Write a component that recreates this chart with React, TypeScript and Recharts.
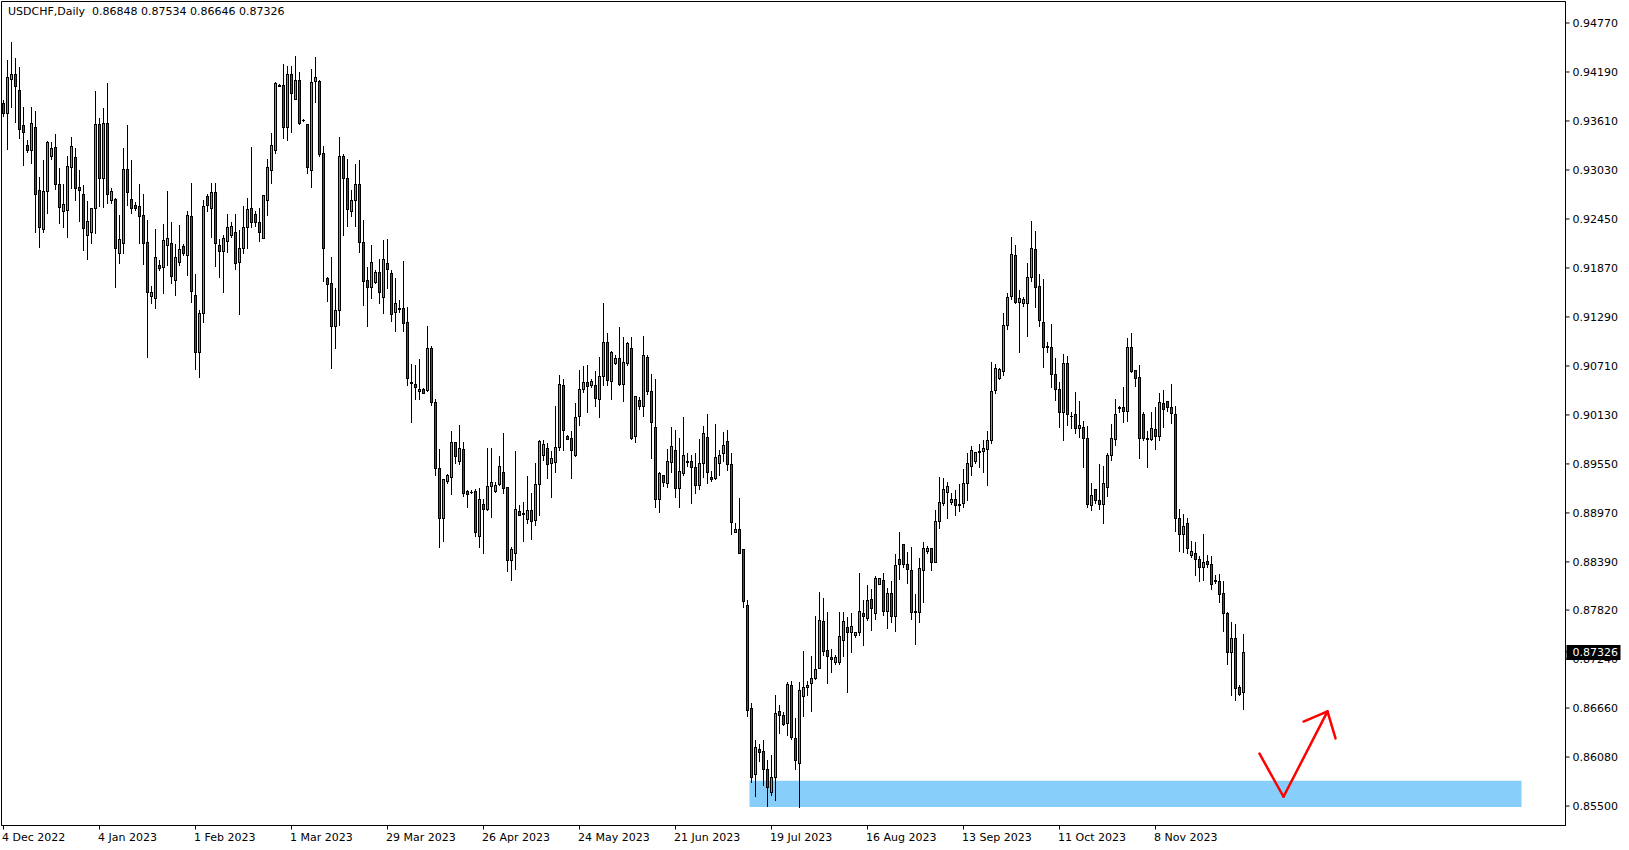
import React from 'react';
import { ComposedChart, Bar, XAxis, YAxis, ReferenceArea, ReferenceLine } from 'recharts';

const chartTitle = 'USDCHF,Daily';

const opens = [
0.9382,0.9371,0.9411,0.9417,0.9398,0.9356,0.9332,0.9327,0.9354,0.9279,0.9233,0.9278,0.9319,0.9330,0.9286,0.9254,0.9256,0.9307,0.9318,0.9283,
0.9275,0.9226,0.9230,0.9258,0.9357,0.9293,0.9359,0.9267,0.9269,0.9205,0.9217,0.9304,0.9269,0.9261,0.9260,0.9250,0.9218,0.9154,0.9152,0.9190,
0.9188,0.9214,0.9217,0.9173,0.9194,0.9213,0.9202,0.9249,0.9155,0.9087,0.9134,0.9272,0.9258,0.9277,0.9214,0.9207,0.9219,0.9226,0.9230,0.9194,
0.9211,0.9236,0.9258,0.9251,0.9242,0.9222,0.9267,0.9303,0.9327,0.9402,0.9404,0.9354,0.9417,0.9387,0.9409,0.9362,0.9357,0.9303,0.9408,0.9408,
0.9323,0.9175,0.9169,0.9118,0.9137,0.9319,0.9293,0.9254,0.9268,0.9286,0.9218,0.9173,0.9165,0.9170,0.9182,0.9153,0.9193,0.9181,0.9135,0.9138,
0.9140,0.9123,0.9052,0.9050,0.9041,0.9044,0.9042,0.9092,0.9028,0.8950,0.8891,0.8935,0.8940,0.8981,0.8958,0.8973,0.8923,0.8922,0.8923,0.8870,
0.8908,0.8902,0.8929,0.8923,0.8931,0.8946,0.8928,0.8841,0.8849,0.8899,0.8897,0.8890,0.8901,0.8889,0.8931,0.8965,0.8974,0.8956,0.8957,0.8975,
0.9049,0.8988,0.8986,0.8966,0.9012,0.9044,0.9052,0.9048,0.9048,0.9032,0.9059,0.9099,0.9053,0.9075,0.9080,0.9050,0.9075,0.9092,0.8988,0.9031,
0.9024,0.9082,0.9041,0.8999,0.8913,0.8942,0.8933,0.8957,0.8971,0.8927,0.8944,0.8957,0.8959,0.8951,0.8930,0.8956,0.8987,0.8939,0.8938,0.8956,
0.8968,0.8982,0.8955,0.8875,0.8878,0.8854,0.8788,0.8666,0.8588,0.8618,0.8615,0.8594,0.8567,0.8584,0.8662,0.8658,0.8648,0.8693,0.8631,0.8601,
0.8680,0.8691,0.8696,0.8701,0.8714,0.8769,0.8735,0.8726,0.8721,0.8721,0.8746,0.8762,0.8756,0.8752,0.8756,0.8779,0.8773,0.8795,0.8779,0.8813,
0.8818,0.8781,0.8802,0.8775,0.8843,0.8860,0.8837,0.8829,0.8781,0.8780,0.8830,0.8852,0.8855,0.8839,0.8888,0.8909,0.8922,0.8910,0.8914,0.8906,
0.8909,0.8932,0.8952,0.8959,0.8970,0.8970,0.8973,0.8983,0.9042,0.9057,0.9065,0.9120,0.9154,0.9202,0.9147,0.9146,0.9146,0.9176,0.9210,0.9166,
0.9123,0.9095,0.9093,0.9061,0.9044,0.9017,0.9074,0.9012,0.9014,0.8998,0.8999,0.8986,0.8906,0.8925,0.8912,0.8908,0.8928,0.8965,0.8984,0.9022,
0.9022,0.9018,0.9094,0.9066,0.9058,0.9014,0.8986,0.8984,0.8996,0.8988,0.9027,0.9029,0.9022,0.9014,0.8891,0.8872,0.8885,0.8847,0.8850,0.8843,
0.8833,0.8840,0.8837,0.8818,0.8816,0.8802,0.8779,0.8732,0.8749,0.8691,0.86848];

const highs = [
0.9386,0.9433,0.9454,0.9436,0.9425,0.9377,0.9339,0.9377,0.9373,0.9295,0.9315,0.9337,0.9336,0.9346,0.9305,0.9286,0.9319,0.9342,0.9329,0.9303,
0.9285,0.9266,0.9258,0.9397,0.9365,0.9376,0.9406,0.9282,0.9270,0.9250,0.9329,0.9356,0.9315,0.9265,0.9286,0.9275,0.9244,0.9166,0.9233,0.9196,
0.9239,0.9278,0.9242,0.9215,0.9238,0.9215,0.9254,0.9287,0.9180,0.9137,0.9267,0.9275,0.9288,0.9287,0.9221,0.9226,0.9251,0.9241,0.9251,0.9232,
0.9260,0.9270,0.9330,0.9254,0.9258,0.9273,0.9316,0.9347,0.9407,0.9405,0.9428,0.9426,0.9426,0.9438,0.9419,0.9363,0.9358,0.9422,0.9437,0.9410,
0.9331,0.9176,0.9200,0.9163,0.9342,0.9322,0.9316,0.9279,0.9310,0.9315,0.9244,0.9188,0.9214,0.9185,0.9198,0.9220,0.9221,0.9185,0.9175,0.9149,
0.9195,0.9141,0.9073,0.9072,0.9079,0.9045,0.9118,0.9095,0.9032,0.8973,0.8937,0.8943,0.8994,0.8981,0.9001,0.8981,0.8924,0.8924,0.8925,0.8926,
0.8914,0.8974,0.8974,0.8934,0.8964,0.8992,0.8928,0.8857,0.8970,0.8906,0.8910,0.8941,0.8920,0.8956,0.8983,0.8983,0.8980,0.8970,0.9024,0.9060,
0.9056,0.8989,0.8994,0.9027,0.9066,0.9071,0.9072,0.9055,0.9065,0.9082,0.9145,0.9110,0.9089,0.9084,0.9117,0.9105,0.9099,0.9105,0.9036,0.9034,
0.9106,0.9084,0.9061,0.9055,0.8946,0.8942,0.8973,0.8999,0.8995,0.8986,0.9011,0.8968,0.8966,0.8968,0.8985,0.9000,0.9014,0.8947,0.9002,0.8972,
0.8993,0.8995,0.8968,0.8885,0.8915,0.8854,0.8794,0.8672,0.8628,0.8623,0.8628,0.8605,0.8610,0.8681,0.8670,0.8661,0.8697,0.8698,0.8654,0.8697,
0.8734,0.8698,0.8728,0.8775,0.8803,0.8796,0.8780,0.8736,0.8729,0.8780,0.8780,0.8774,0.8779,0.8756,0.8826,0.8794,0.8812,0.8807,0.8822,0.8820,
0.8826,0.8808,0.8816,0.8848,0.8874,0.8860,0.8851,0.8857,0.8801,0.8844,0.8862,0.8858,0.8855,0.8900,0.8940,0.8938,0.8934,0.8921,0.8924,0.8931,
0.8949,0.8968,0.8976,0.8969,0.8979,0.8983,0.8994,0.9076,0.9073,0.9068,0.9134,0.9157,0.9224,0.9214,0.9161,0.9153,0.9193,0.9243,0.9231,0.9180,
0.9174,0.9099,0.9121,0.9080,0.9052,0.9085,0.9083,0.9016,0.9040,0.9029,0.9006,0.9000,0.8932,0.8925,0.8955,0.8952,0.8968,0.9002,0.9032,0.9023,
0.9046,0.9104,0.9110,0.9066,0.9072,0.9016,0.8994,0.9016,0.9022,0.9039,0.9043,0.9030,0.9050,0.9024,0.8902,0.8896,0.8891,0.8864,0.8862,0.8846,
0.8872,0.8847,0.8846,0.8824,0.8825,0.8817,0.8780,0.8768,0.8766,0.8693,0.87534];

const lows = [
0.9367,0.9328,0.9378,0.9360,0.9341,0.9309,0.9324,0.9311,0.9229,0.9212,0.9230,0.9252,0.9316,0.9281,0.9240,0.9236,0.9224,0.9282,0.9267,0.9243,
0.9208,0.9198,0.9217,0.9228,0.9260,0.9259,0.9264,0.9264,0.9164,0.9193,0.9205,0.9262,0.9252,0.9256,0.9216,0.9192,0.9082,0.9145,0.9140,0.9185,
0.9157,0.9190,0.9169,0.9155,0.9190,0.9202,0.9179,0.9147,0.9067,0.9058,0.9123,0.9254,0.9224,0.9189,0.9176,0.9158,0.9206,0.9224,0.9186,0.9133,
0.9205,0.9211,0.9236,0.9237,0.9219,0.9222,0.9250,0.9288,0.9323,0.9402,0.9341,0.9339,0.9348,0.9387,0.9357,0.9361,0.9300,0.9283,0.9384,0.9320,
0.9172,0.9148,0.9069,0.9092,0.9120,0.9226,0.9237,0.9248,0.9237,0.9206,0.9143,0.9118,0.9152,0.9169,0.9145,0.9134,0.9163,0.9124,0.9112,0.9135,
0.9112,0.9049,0.9005,0.9032,0.9032,0.9039,0.9041,0.9025,0.8942,0.8857,0.8864,0.8933,0.8919,0.8956,0.8955,0.8917,0.8904,0.8920,0.8870,0.8857,
0.8849,0.8900,0.8892,0.8922,0.8930,0.8921,0.8828,0.8818,0.8831,0.8895,0.8864,0.8885,0.8866,0.8883,0.8894,0.8960,0.8938,0.8916,0.8946,0.8972,
0.8972,0.8984,0.8938,0.8964,0.9001,0.9040,0.9016,0.9046,0.9024,0.9011,0.9048,0.9049,0.9032,0.9073,0.9048,0.9030,0.9072,0.8985,0.8981,0.9020,
0.9012,0.9038,0.8962,0.8904,0.8898,0.8929,0.8928,0.8946,0.8916,0.8904,0.8942,0.8952,0.8909,0.8921,0.8925,0.8940,0.8933,0.8935,0.8937,0.8942,
0.8959,0.8948,0.8872,0.8875,0.8849,0.8786,0.8656,0.8579,0.8562,0.8603,0.8575,0.8550,0.8563,0.8557,0.8637,0.8646,0.8634,0.8629,0.8594,0.8549,
0.8657,0.8681,0.8663,0.8700,0.8714,0.8729,0.8696,0.8709,0.8718,0.8718,0.8728,0.8685,0.8732,0.8750,0.8752,0.8741,0.8770,0.8758,0.8771,0.8813,
0.8776,0.8761,0.8768,0.8757,0.8819,0.8833,0.8814,0.8772,0.8742,0.8768,0.8792,0.8850,0.8829,0.8839,0.8879,0.8906,0.8891,0.8907,0.8894,0.8899,
0.8904,0.8912,0.8942,0.8956,0.8951,0.8945,0.8930,0.8980,0.9039,0.9056,0.9060,0.9115,0.9150,0.9145,0.9088,0.9142,0.9107,0.9171,0.9141,0.9118,
0.9070,0.9087,0.9046,0.9031,0.8999,0.8983,0.9001,0.8997,0.8992,0.8987,0.8951,0.8904,0.8900,0.8909,0.8902,0.8885,0.8917,0.8960,0.8978,0.9017,
0.9005,0.9006,0.9064,0.9047,0.8962,0.8983,0.8951,0.8983,0.8973,0.8983,0.8999,0.9018,0.9004,0.8876,0.8852,0.8851,0.8849,0.8845,0.8823,0.8816,
0.8818,0.8833,0.8807,0.8814,0.8791,0.8757,0.8718,0.8681,0.8676,0.8682,0.86646];

const closes = [
0.9371,0.9413,0.9417,0.9403,0.9351,0.9348,0.9327,0.9359,0.9275,0.9236,0.9278,0.9336,0.9329,0.9286,0.9259,0.9263,0.9308,0.9331,0.9282,0.9279,
0.9234,0.9243,0.9258,0.9358,0.9294,0.9359,0.9274,0.9278,0.9211,0.9221,0.9304,0.9277,0.9258,0.9258,0.9249,0.9217,0.9159,0.9158,0.9200,0.9187,
0.9220,0.9222,0.9177,0.9200,0.9209,0.9205,0.9250,0.9160,0.9087,0.9134,0.9260,0.9262,0.9277,0.9216,0.9207,0.9222,0.9235,0.9237,0.9193,0.9211,
0.9236,0.9257,0.9242,0.9242,0.9229,0.9273,0.9307,0.9332,0.9406,0.9404,0.9354,0.9417,0.9394,0.9409,0.9359,0.9362,0.9307,0.9407,0.9413,0.9322,
0.9211,0.9168,0.9118,0.9137,0.9319,0.9293,0.9257,0.9267,0.9286,0.9218,0.9172,0.9164,0.9194,0.9182,0.9158,0.9198,0.9186,0.9133,0.9145,0.9140,
0.9122,0.9057,0.9051,0.9046,0.9044,0.9039,0.9092,0.9028,0.8950,0.8891,0.8937,0.8942,0.8981,0.8964,0.8974,0.8920,0.8919,0.8922,0.8875,0.8914,
0.8902,0.8929,0.8934,0.8930,0.8953,0.8927,0.8841,0.8854,0.8902,0.8895,0.8896,0.8900,0.8888,0.8931,0.8982,0.8979,0.8955,0.8962,0.8975,0.9050,
0.8995,0.8985,0.8972,0.9011,0.9044,0.9052,0.9047,0.9053,0.9033,0.9059,0.9099,0.9054,0.9088,0.9080,0.9050,0.9076,0.9098,0.8986,0.9035,0.9023,
0.9084,0.9041,0.9005,0.8913,0.8944,0.8934,0.8958,0.8976,0.8927,0.8947,0.8966,0.8959,0.8951,0.8930,0.8956,0.8992,0.8946,0.8937,0.8963,0.8966,
0.8977,0.8955,0.8886,0.8878,0.8850,0.8793,0.8664,0.8584,0.8620,0.8614,0.8594,0.8573,0.8584,0.8660,0.8658,0.8647,0.8694,0.8632,0.8605,0.8687,
0.8691,0.8693,0.8701,0.8712,0.8770,0.8734,0.8728,0.8724,0.8727,0.8751,0.8769,0.8756,0.8763,0.8756,0.8781,0.8775,0.8794,0.8784,0.8820,0.8820,
0.8781,0.8802,0.8775,0.8835,0.8837,0.8837,0.8831,0.8780,0.8780,0.8832,0.8856,0.8855,0.8839,0.8887,0.8910,0.8925,0.8929,0.8914,0.8906,0.8908,
0.8933,0.8956,0.8972,0.8969,0.8969,0.8974,0.8983,0.9041,0.9069,0.9067,0.9120,0.9153,0.9203,0.9147,0.9151,0.9150,0.9176,0.9211,0.9164,0.9125,
0.9093,0.9093,0.9062,0.9044,0.9017,0.9074,0.9014,0.9012,0.8998,0.9001,0.8986,0.8908,0.8918,0.8912,0.8908,0.8932,0.8965,0.8986,0.9014,0.9021,
0.9018,0.9094,0.9065,0.9057,0.8986,0.8986,0.8985,0.8998,0.8988,0.9028,0.9020,0.9022,0.9015,0.8891,0.8872,0.8881,0.8855,0.8852,0.8842,0.8833,
0.8839,0.8837,0.8813,0.8816,0.8801,0.8778,0.8732,0.8749,0.8690,0.8683,0.87326];

// empty bars kept on the right (chart shift)
const shiftBars = 80;

const dateTicks = [
  { bar: 0, label: '4 Dec 2022' }, { bar: 24, label: '4 Jan 2023' }, { bar: 48, label: '1 Feb 2023' },
  { bar: 72, label: '1 Mar 2023' }, { bar: 96, label: '29 Mar 2023' }, { bar: 120, label: '26 Apr 2023' },
  { bar: 144, label: '24 May 2023' }, { bar: 168, label: '21 Jun 2023' }, { bar: 192, label: '19 Jul 2023' },
  { bar: 216, label: '16 Aug 2023' }, { bar: 240, label: '13 Sep 2023' }, { bar: 264, label: '11 Oct 2023' },
  { bar: 288, label: '8 Nov 2023' },
];

const priceTicks = [0.9477, 0.9419, 0.9361, 0.9303, 0.9245, 0.9187, 0.9129, 0.9071, 0.9013, 0.8955, 0.8897, 0.8839, 0.8782, 0.8724, 0.8666, 0.8608, 0.855];
const priceDomain = [0.852696, 0.950245];

const supportZone = { fromBar: 187, toBar: 379, low: 0.8549, high: 0.8580 };
const arrowSegments = [
  [{ bar: 314, price: 0.8612 }, { bar: 320, price: 0.8561 }],
  [{ bar: 320, price: 0.8561 }, { bar: 331, price: 0.8662 }],
  [{ bar: 331, price: 0.8662 }, { bar: 325, price: 0.8650 }],
  [{ bar: 331, price: 0.8662 }, { bar: 333, price: 0.8630 }],
];

const BULL = '#32CD32';
const BEAR = '#E00E0E';
const FONT = 'DejaVu Sans';

const lastClose = closes[closes.length - 1];
const totalBars = opens.length + shiftBars;
const data = Array.from({ length: totalBars }, (_, k) =>
  k < opens.length
    ? { bar: k, o: opens[k], h: highs[k], l: lows[k], c: closes[k] }
    : { bar: k, o: null, h: null, l: null, c: null }
);
const rangeKey = (d: any) => (d.o == null ? null : [d.l, d.h]);
const dateLabel = new Map(dateTicks.map((t) => [t.bar, t.label]));

const Candle = (props: any) => {
  const { x, y, width, height, payload } = props;
  if (!payload || payload.o == null || x == null || y == null) return null;
  const top = Math.min(y, y + height);
  const bot = Math.max(y, y + height);
  const range = payload.h - payload.l;
  const ppu = range > 0 ? (bot - top) / range : 0;
  const py = (v: number) => top + (payload.h - v) * ppu;
  const c = Math.floor(x + width / 2);
  const wx = c + 0.5;
  const bTop = Math.round(py(Math.max(payload.o, payload.c)));
  const bBot = Math.round(py(Math.min(payload.o, payload.c)));
  const bull = payload.c >= payload.o;
  return (
    <g>
      <line x1={wx} x2={wx} y1={Math.round(py(payload.h))} y2={Math.round(py(payload.l)) + 1} stroke="#000" strokeWidth={1} />
      {bBot - bTop < 1 ? (
        <line x1={c - 1} x2={c + 2} y1={bTop + 0.5} y2={bTop + 0.5} stroke="#000" strokeWidth={1} />
      ) : (
        <rect x={c - 0.5} y={bTop + 0.5} width={2} height={bBot - bTop} fill={bull ? BULL : BEAR} stroke="#000" strokeWidth={1} />
      )}
    </g>
  );
};

const DateTick = (props: any) => {
  const { x, y, payload } = props;
  const label = dateLabel.get(payload.value);
  if (!label) return <g />;
  const tx = Math.floor(x) + 0.5;
  return (
    <g>
      <line x1={tx} x2={tx} y1={y} y2={y + 4} stroke="#000" strokeWidth={1} />
      <text x={x - 1.5} y={y + 15} fontSize={11} fontFamily={FONT} fill="#000">{label}</text>
    </g>
  );
};

const PriceTick = (props: any) => {
  const { x, y, payload } = props;
  const v = payload.value as number;
  if (Math.abs(v - lastClose) < 1e-9) {
    return (
      <g>
        <rect x={x - 6} y={Math.round(y) - 7} width={54} height={15} fill="#000" />
        <text x={x} y={y} dy="0.355em" fontSize={11} fontFamily={FONT} fill="#fff">{v.toFixed(5)}</text>
      </g>
    );
  }
  return (
    <text x={x} y={y} dy="0.355em" fontSize={11} fontFamily={FONT} fill="#000">{v.toFixed(5)}</text>
  );
};

export default function App() {
  return (
    <div style={{ position: 'absolute', left: 0, top: 0, width: 1629, height: 850, background: '#fff', overflow: 'hidden' }}>
      <ComposedChart
        width={1629}
        height={850}
        data={data}
        margin={{ top: 1.5, right: 0, bottom: 0, left: 1.5 }}
        barCategoryGap={0}
      >
        <XAxis
          dataKey="bar"
          type="category"
          interval={0}
          ticks={dateTicks.map((t) => t.bar)}
          tick={<DateTick />}
          tickLine={false}
          tickSize={0}
          tickMargin={0}
          axisLine={{ stroke: '#000' }}
          height={24.5}
        />
        <YAxis
          orientation="right"
          domain={priceDomain}
          allowDataOverflow
          type="number"
          ticks={[...priceTicks, lastClose]}
          interval={0}
          width={63.5}
          tickSize={4}
          tickMargin={3}
          tickLine={{ stroke: '#000' }}
          axisLine={{ stroke: '#000' }}
          tick={<PriceTick />}
        />
        <ReferenceArea
          x1={supportZone.fromBar}
          x2={supportZone.toBar}
          y1={supportZone.low}
          y2={supportZone.high}
          fill="#87CEFA"
          fillOpacity={1}
          stroke="none"
          ifOverflow="visible"
        />
        <Bar dataKey={rangeKey} shape={<Candle />} isAnimationActive={false} />
        {arrowSegments.map((seg, i) => (
          <ReferenceLine
            key={i}
            segment={[{ x: seg[0].bar, y: seg[0].price }, { x: seg[1].bar, y: seg[1].price }]}
            stroke="#FF0000"
            strokeWidth={2.5}
            strokeLinecap="round"
            ifOverflow="visible"
          />
        ))}
        <ReferenceArea
          x1={0}
          x2={totalBars - 1}
          y1={priceDomain[0]}
          y2={priceDomain[1]}
          fill="none"
          stroke="#000"
          strokeWidth={1}
          ifOverflow="visible"
        />
      </ComposedChart>
      <div style={{ position: 'absolute', left: 8, top: 5, fontFamily: FONT, fontSize: 11, lineHeight: '14px', color: '#000', whiteSpace: 'pre' }}>
        {chartTitle + '  0.86848 0.87534 0.86646 0.87326'}
      </div>
    </div>
  );
}
